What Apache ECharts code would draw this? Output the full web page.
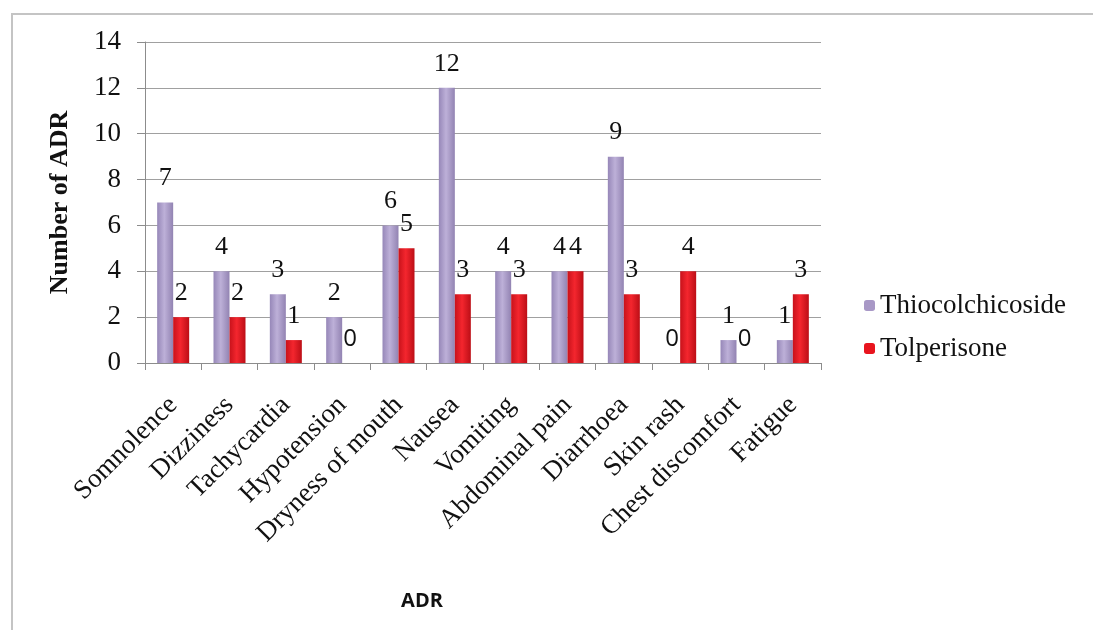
<!DOCTYPE html>
<html>
<head>
<meta charset="utf-8">
<script src="https://cdn.jsdelivr.net/npm/echarts@6/dist/echarts.min.js"></script>
<style>
html,body{margin:0;padding:0;background:#fff;}
#chart{width:1093px;height:630px;}
</style>
</head>
<body>
<div id="chart"></div>
<script>
const categories = ['Somnolence','Dizziness','Tachycardia','Hypotension','Dryness of mouth','Nausea','Vomiting','Abdominal pain','Diarrhoea','Skin rash','Chest discomfort','Fatigue'];
const thiocolchicoside = [7,4,3,2,6,12,4,4,9,0,1,1];
const tolperisone = [2,2,1,0,5,3,3,4,3,4,0,3];
const yTicks = [0,2,4,6,8,10,12,14];

const serif = '"Liberation Serif","Times New Roman",serif';
const sans = '"Open Sans","Liberation Sans",sans-serif';
const chart = echarts.init(document.getElementById('chart'));

const purpleGrad = new echarts.graphic.LinearGradient(0,0,1,0,[
  {offset:0,color:'#9687b8'},{offset:0.45,color:'#bdb0d8'},{offset:1,color:'#9283b2'}]);
const redGrad = new echarts.graphic.LinearGradient(0,0,1,0,[
  {offset:0,color:'#c8121b'},{offset:0.45,color:'#f4262e'},{offset:1,color:'#bc0e16'}]);

const labelStyle = {show:true, position:'top', distance:11, fontFamily:serif, fontSize:26, color:'#111'};

function withZeroStyle(arr){
  return arr.map(function(v){
    return v === 0 ? {value:v, label:{fontFamily:sans, fontSize:24, distance:12}} : v;
  });
}

chart.setOption({
  animation:false,
  backgroundColor:'#fff',
  graphic:[
    {type:'polyline', shape:{points:[[12,630],[12,14],[1093,14]]}, style:{stroke:'#c4c4c4', lineWidth:2, fill:null}},
    {type:'text', x:422, y:601, style:{text:'ADR', fontFamily:sans, fontWeight:'bold', fontSize:20, fill:'#111', align:'center', verticalAlign:'middle'}}
  ],
  legend:{
    orient:'vertical', left:859, top:287, itemWidth:11, itemHeight:11, itemGap:16,
    textStyle:{fontFamily:serif, fontSize:27, color:'#111'},
    data:[{name:'Thiocolchicoside', itemStyle:{color:'#a898c6'}},{name:'Tolperisone', itemStyle:{color:'#e8141e'}}]
  },
  grid:{left:145, right:272, top:42, bottom:267},
  xAxis:{
    type:'category', data:categories,
    axisLine:{lineStyle:{color:'#8c8c8c'}},
    axisTick:{show:true, alignWithLabel:false, length:7, lineStyle:{color:'#8c8c8c'}},
    axisLabel:{interval:0, rotate:45, margin:38, fontFamily:serif, fontSize:27, color:'#111'}
  },
  yAxis:{
    type:'value', min:0, max:14, interval:2,
    name:'Number of ADR', nameLocation:'middle', nameGap:72, nameMoveOverlap:false,
    nameTextStyle:{fontFamily:serif, fontSize:26, fontWeight:'bold', color:'#111'},
    axisLine:{show:true, lineStyle:{color:'#8c8c8c'}},
    axisTick:{show:true, length:8, lineStyle:{color:'#8c8c8c'}},
    axisLabel:{margin:24, fontFamily:serif, fontSize:27, color:'#111',
      formatter:function(v){return yTicks.indexOf(v)>=0?String(v):'';}},
    splitLine:{lineStyle:{color:'#a0a0a0'}}
  },
  series:[
    {name:'Thiocolchicoside', type:'bar', data:withZeroStyle(thiocolchicoside), barWidth:16, barGap:'0%',
     itemStyle:{color:purpleGrad}, label:labelStyle},
    {name:'Tolperisone', type:'bar', data:withZeroStyle(tolperisone), barWidth:16, barGap:'0%',
     itemStyle:{color:redGrad}, label:labelStyle}
  ]
});
</script>
</body>
</html>
